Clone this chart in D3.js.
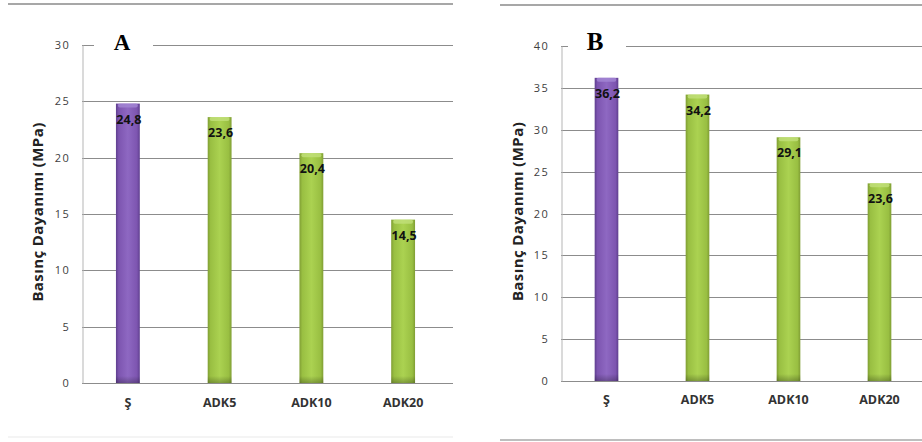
<!DOCTYPE html>
<html>
<head>
<meta charset="utf-8">
<script src="https://cdn.jsdelivr.net/npm/d3@7"></script>
<style>
  html, body { margin: 0; padding: 0; background: #fff; }
  svg { display: block; }
</style>
</head>
<body>
<svg id="chart" width="922" height="442"></svg>
<script>
// Compressive strength (MPa) of the reference mix (Ş) and ADK mixes
const categories = ["Ş", "ADK5", "ADK10", "ADK20"];
const valuesA = [24.8, 23.6, 20.4, 14.5];
const valuesB = [36.2, 34.2, 29.1, 23.6];
const ticksA = [0, 5, 10, 15, 20, 25, 30];
const ticksB = [0, 5, 10, 15, 20, 25, 30, 35, 40];
const yTitle = "Basınç Dayanımı (MPa)";
const panelTitles = ["A", "B"];

const svg = d3.select("#chart");
const defs = svg.append("defs");

// cylinder-like shading for the bars
function barGradient(id, dark, mid, light) {
  const g = defs.append("linearGradient").attr("id", id)
    .attr("x1", "0%").attr("x2", "100%").attr("y1", "0%").attr("y2", "0%");
  [[0, dark], [0.12, mid], [0.5, light], [0.88, mid], [1, dark]].forEach(([o, c]) =>
    g.append("stop").attr("offset", o).attr("stop-color", c));
}
barGradient("gPurple", "#5f3f8f", "#7d55b0", "#8e68c2");
barGradient("gGreen", "#809e34", "#99bf42", "#abd251");

// soft darkening at the foot of each bar
const foot = defs.append("linearGradient").attr("id", "gFoot")
  .attr("x1", "0%").attr("x2", "0%").attr("y1", "0%").attr("y2", "100%");
[[0, 0], [1, 0.25]].forEach(([o, a]) =>
  foot.append("stop").attr("offset", o).attr("stop-color", "#000").attr("stop-opacity", a));

const fmt = v => String(v).replace(".", ",");

function drawPanel(cfg) {
  const g = svg.append("g");
  const y = d3.scaleLinear().domain(cfg.domain).range([cfg.y0, cfg.y1]);
  const x = d3.scaleBand().domain(categories).range([cfg.x0, cfg.x1])
    .paddingInner(0.74).paddingOuter(0.37);

  // frame lines above and below the panel
  g.append("line").attr("x1", cfg.topL).attr("x2", cfg.topR)
    .attr("y1", cfg.topY).attr("y2", cfg.topY)
    .attr("stroke", "#8a8a8a").attr("stroke-width", 1.5);
  g.append("line").attr("x1", cfg.topL).attr("x2", cfg.topR)
    .attr("y1", cfg.botY).attr("y2", cfg.botY)
    .attr("stroke", cfg.botColor).attr("stroke-width", 1.5);

  // gridlines, with a gap on the top line for the panel letter
  cfg.ticks.forEach((t, i) => {
    const yy = Math.round(y(t)) + 0.5;
    if (i === cfg.ticks.length - 1) {
      g.append("line").attr("x1", cfg.x0).attr("x2", cfg.gapL).attr("y1", yy).attr("y2", yy)
        .attr("stroke", "#8c8c8c");
      g.append("line").attr("x1", cfg.gapR).attr("x2", cfg.gridR).attr("y1", yy).attr("y2", yy)
        .attr("stroke", "#8c8c8c");
    } else {
      g.append("line").attr("x1", cfg.x0).attr("x2", cfg.gridR).attr("y1", yy).attr("y2", yy)
        .attr("stroke", "#8c8c8c");
    }
  });

  // y axis
  const axis = g.append("g").attr("transform", `translate(${cfg.x0 + 0.5},0)`)
    .call(d3.axisLeft(y).tickValues(cfg.ticks).tickSize(0).tickPadding(12));
  axis.select(".domain").attr("stroke", "#b5b5b5");
  axis.selectAll("text").attr("font-family", "Open Sans, sans-serif")
    .attr("font-size", 11).attr("fill", "#404040").attr("letter-spacing", "1.6px");

  // bars
  const bars = g.selectAll(".bar").data(cfg.values).enter().append("g");
  bars.append("rect")
    .attr("x", (d, i) => x(categories[i]))
    .attr("width", x.bandwidth())
    .attr("y", d => y(d))
    .attr("height", d => y(0) - y(d))
    .attr("fill", (d, i) => i === 0 ? "url(#gPurple)" : "url(#gGreen)");
  bars.append("rect")
    .attr("x", (d, i) => x(categories[i]))
    .attr("width", x.bandwidth())
    .attr("y", y(0) - 7)
    .attr("height", 7)
    .attr("fill", "url(#gFoot)");
  // lighter cap on top of each bar
  bars.append("rect")
    .attr("x", (d, i) => x(categories[i]) + 2)
    .attr("width", x.bandwidth() - 4)
    .attr("y", d => y(d))
    .attr("height", 4)
    .attr("rx", 2)
    .attr("fill", (d, i) => i === 0 ? "#a487d4" : "#c2e07a")
    .attr("opacity", 0.8);

  // value labels
  g.selectAll(".val").data(cfg.values).enter().append("text")
    .attr("x", (d, i) => x(categories[i]) + x.bandwidth() / 2 + 1)
    .attr("y", d => y(d) + 20)
    .attr("text-anchor", "middle")
    .attr("font-family", "Open Sans, sans-serif").attr("font-weight", 700)
    .attr("font-size", 12.5).attr("fill", "#111")
    .text(d => fmt(d));

  // category labels
  g.selectAll(".cat").data(categories).enter().append("text")
    .attr("x", d => x(d) + x.bandwidth() / 2)
    .attr("y", cfg.y0 + cfg.catDy)
    .attr("text-anchor", "middle")
    .attr("font-family", "Open Sans, sans-serif").attr("font-weight", 700)
    .attr("font-size", 12.5).attr("fill", "#333")
    .text(d => d);

  // y axis title
  g.append("text")
    .attr("transform", `translate(${cfg.titleX},${(cfg.y0 + cfg.y1) / 2 - 2}) rotate(-90)`)
    .attr("text-anchor", "middle")
    .attr("font-family", "Open Sans, sans-serif").attr("font-weight", 700)
    .attr("font-size", 15).attr("fill", "#222").attr("letter-spacing", "0.4px")
    .text(yTitle);

  // panel letter
  g.append("text")
    .attr("x", cfg.letterX).attr("y", cfg.letterY)
    .attr("text-anchor", "middle")
    .attr("font-family", "Liberation Serif, Times New Roman, serif").attr("font-weight", 700)
    .attr("font-size", cfg.letterSize).attr("fill", "#000")
    .text(cfg.letter);
}

drawPanel({
  values: valuesA, ticks: ticksA, domain: [0, 30],
  y0: 383, y1: 45, x0: 82, x1: 449, gridR: 453,
  gapL: 94, gapR: 153,
  topL: 8, topR: 453, topY: 4, botY: 437, botColor: "#f0f0f0",
  catDy: 24, titleX: 43,
  letter: panelTitles[0], letterX: 122, letterY: 50, letterSize: 23
});

drawPanel({
  values: valuesB, ticks: ticksB, domain: [0, 40],
  y0: 381, y1: 46, x0: 561, x1: 925, gridR: 922,
  gapL: 568, gapR: 626,
  topL: 500, topR: 922, topY: 5, botY: 440, botColor: "#a8a8a8",
  catDy: 23, titleX: 523,
  letter: panelTitles[1], letterX: 595, letterY: 50, letterSize: 25
});
</script>
</body>
</html>
